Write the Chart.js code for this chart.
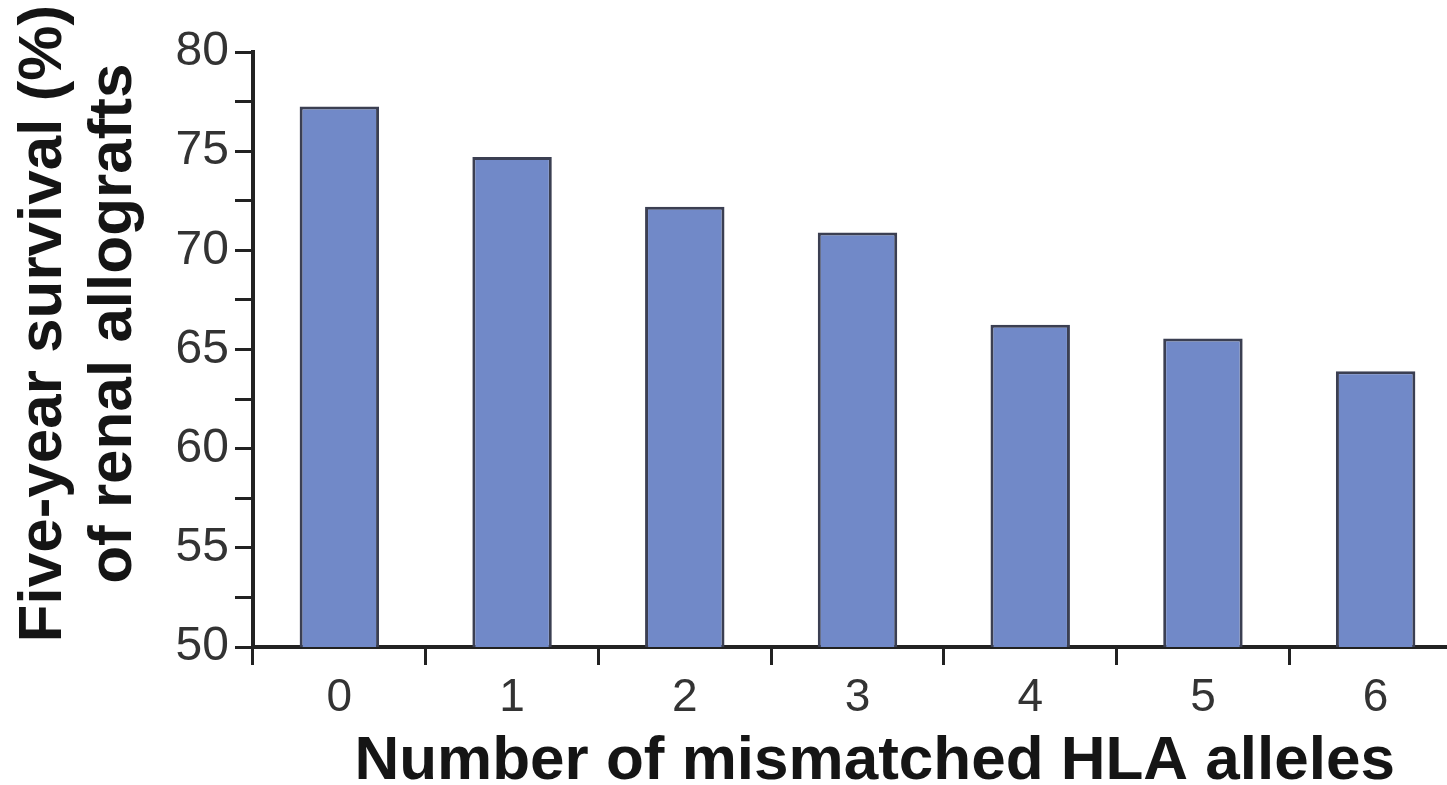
<!DOCTYPE html>
<html>
<head>
<meta charset="utf-8">
<script src="https://cdn.jsdelivr.net/npm/chart.js@4.4.0/dist/chart.umd.min.js"></script>
<style>
  html, body { margin: 0; padding: 0; background: #fff; overflow: hidden; }
  #wrap { width: 1475px; height: 785px; }
</style>
</head>
<body>
<div id="wrap"><canvas id="mainChart"></canvas></div>
<script>
const mismatches = ['0', '1', '2', '3', '4', '5', '6'];
const survival = [77.25, 74.7, 72.2, 70.9, 66.25, 65.55, 63.9];
const yTicks = [50, 55, 60, 65, 70, 75, 80];

const ctx = document.getElementById('mainChart').getContext('2d');
const axisColor = '#222';
const fontFamily = 'Liberation Sans, Arial, sans-serif';

new Chart(ctx, {
    type: 'bar',
    data: {
        labels: mismatches,
        datasets: [{
            data: survival,
            backgroundColor: '#7189c8',
            borderColor: '#3b3f52',
            borderWidth: 3,
            categoryPercentage: 1,
            barPercentage: 0.46
        }]
    },
    options: {
        responsive: true,
        maintainAspectRatio: false,
        animation: false,
        layout: { autoPadding: false, padding: { top: 52, right: 13, left: 0, bottom: 0 } },
        plugins: { legend: { display: false }, tooltip: { enabled: false } },
        scales: {
            x: {
                offset: true,
                afterFit: s => { s.height = 138; },
                border: { display: true, color: axisColor, width: 4 },
                grid: { display: true, drawOnChartArea: false, offset: true, tickLength: 18, color: axisColor, lineWidth: 3 },
                ticks: { color: '#333', padding: 6, font: { family: fontFamily, size: 46 } },
                title: {
                    display: true,
                    // leading spaces nudge the centred title a bit to the right
                    text: '  Number of mismatched HLA alleles',
                    color: '#151515',
                    padding: { top: 0, bottom: 0 },
                    font: { family: fontFamily, size: 62, weight: 'bold', lineHeight: 0.75 }
                }
            },
            y: {
                min: yTicks[0],
                max: yTicks[yTicks.length - 1],
                afterFit: s => { s.width = 253; },
                border: { display: true, color: axisColor, width: 4 },
                grid: { display: true, drawOnChartArea: false, tickLength: 18, color: axisColor, lineWidth: 3 },
                ticks: {
                    stepSize: 2.5,
                    autoSkip: false,
                    color: '#333',
                    padding: 6,
                    font: { family: fontFamily, size: 48 },
                    callback: v => yTicks.includes(v) ? v : ''
                },
                title: {
                    display: true,
                    text: ['   Five-year survival (%)', '   of renal allografts'],
                    color: '#151515',
                    padding: { top: 9, bottom: 0 },
                    font: { family: fontFamily, size: 62, weight: 'bold', lineHeight: 1.13 }
                }
            }
        }
    }
});
</script>
</body>
</html>
